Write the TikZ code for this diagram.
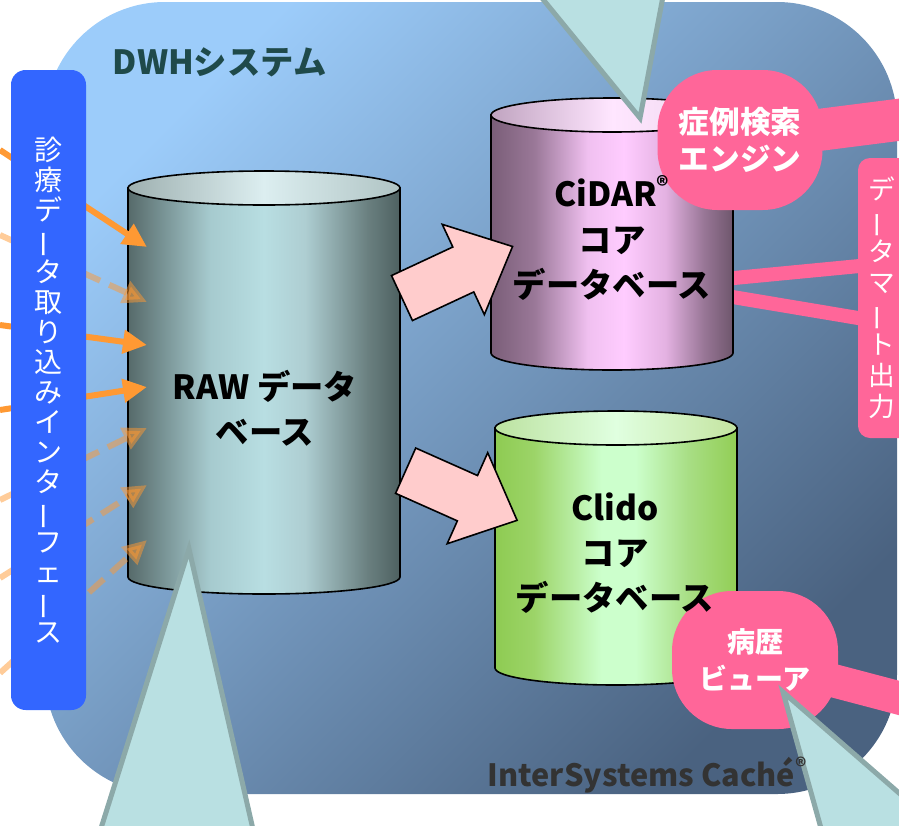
\documentclass[tikz,border=0pt]{standalone}
\usepackage{fontspec}
\setmainfont{Noto Sans CJK JP}
\usepackage{graphicx}
\usepackage{tikz}
\usepackage{xcolor}
\usetikzlibrary{arrows.meta,shapes.arrows}
\definecolor{bgtop}{HTML}{9CCCFA}
\definecolor{bgbot}{HTML}{4A6280}
\definecolor{inblue}{HTML}{3366FF}
\definecolor{blobpink}{HTML}{FF6699}
\definecolor{arrowpink}{HTML}{FFCCCC}
\definecolor{feedorange}{HTML}{FF9933}
\definecolor{tipcyan}{HTML}{B9E0E2}
\definecolor{tipedge}{HTML}{8CA9A9}
\definecolor{titleteal}{HTML}{1F4A4A}
\definecolor{cachegray}{HTML}{333333}
\definecolor{rawA}{HTML}{566A6A}
\definecolor{rawB}{HTML}{A6CACE}
\definecolor{rawC}{HTML}{B8DEE2}
\definecolor{rawD}{HTML}{AECED2}
\definecolor{rawE}{HTML}{6A8080}
\definecolor{rawF}{HTML}{4E6060}
\definecolor{rawcapA}{HTML}{9EB0B0}
\definecolor{rawcapB}{HTML}{DCEEF0}
\definecolor{rawcapC}{HTML}{B0C4C4}
\definecolor{cidA}{HTML}{7A5E78}
\definecolor{cidB}{HTML}{9A7898}
\definecolor{cidC}{HTML}{F0C0F0}
\definecolor{cidD}{HTML}{FFCCFF}
\definecolor{cidE}{HTML}{E4B2E2}
\definecolor{cidF}{HTML}{987696}
\definecolor{cidG}{HTML}{6E566C}
\definecolor{cidcapA}{HTML}{C0A4C0}
\definecolor{cidcapB}{HTML}{FFE6FF}
\definecolor{cidcapC}{HTML}{ECD6EC}
\definecolor{cliA}{HTML}{8ECB52}
\definecolor{cliB}{HTML}{9CD468}
\definecolor{cliC}{HTML}{CCFFCC}
\definecolor{cliE}{HTML}{A8DE84}
\definecolor{cliF}{HTML}{92CE55}
\definecolor{clicapA}{HTML}{BCE2A0}
\definecolor{clicapB}{HTML}{E0FFE0}
\definecolor{clicapC}{HTML}{C4E4A0}
\pgfdeclarehorizontalshading{rawbody}{100bp}{color(0bp)=(rawA); color(25bp)=(rawA); color(40bp)=(rawB); color(50bp)=(rawC); color(57.5bp)=(rawD); color(69bp)=(rawE); color(75bp)=(rawF); color(100bp)=(rawF)}
\pgfdeclarehorizontalshading{rawcap}{100bp}{color(0bp)=(rawcapA); color(25bp)=(rawcapA); color(50bp)=(rawcapB); color(75bp)=(rawcapC); color(100bp)=(rawcapC)}
\pgfdeclarehorizontalshading{cidarbody}{100bp}{color(0bp)=(cidA); color(25bp)=(cidA); color(34bp)=(cidB); color(45bp)=(cidC); color(52.5bp)=(cidD); color(61bp)=(cidE); color(69bp)=(cidF); color(75bp)=(cidG); color(100bp)=(cidG)}
\pgfdeclarehorizontalshading{cidarcap}{100bp}{color(0bp)=(cidcapA); color(25bp)=(cidcapA); color(50bp)=(cidcapB); color(75bp)=(cidcapC); color(100bp)=(cidcapC)}
\pgfdeclarehorizontalshading{clidobody}{100bp}{color(0bp)=(cliA); color(25bp)=(cliA); color(33bp)=(cliB); color(47bp)=(cliC); color(54bp)=(cliC); color(65bp)=(cliE); color(75bp)=(cliF); color(100bp)=(cliF)}
\pgfdeclarehorizontalshading{clidocap}{100bp}{color(0bp)=(clicapA); color(25bp)=(clicapA); color(50bp)=(clicapB); color(75bp)=(clicapC); color(100bp)=(clicapC)}
\newcommand{\vbar}{\rotatebox[origin=c]{90}{ー}}
% name, left, right, top, bottom, body shading, cap shading
\newcommand{\drum}[7]{%
  \shade[shading=#6, draw, line width=1.2pt] (#2,#4) -- (#2,#5) arc[start angle=180, end angle=0, x radius={(#3-#2)/2}, y radius=17] -- (#3,#4) -- cycle;
  \shade[shading=#7, draw, line width=1.2pt] ({(#2+#3)/2},#4) ellipse[x radius={(#3-#2)/2}, y radius=17];
  \node[inner sep=0pt, minimum width={(#3-#2)*0.75pt}, minimum height={(#5-#4)*0.75pt}] (#1) at ({(#2+#3)/2},{(#4+#5)/2}) {};
}
\tikzstyle{inflow} = [line width=4.5pt, draw=feedorange, -{Triangle[length=18pt,width=17pt]}]
\tikzstyle{inflowdash} = [inflow, opacity=0.5, dash pattern=on 15pt off 7.5pt]
\tikzstyle{feedbox} = [fill=inblue, rounded corners=11pt, minimum width=56.25pt, minimum height=480pt, inner sep=0pt, text=white, align=center, font=\fontsize{21}{22.5}\selectfont]
\tikzstyle{martbox} = [fill=blobpink, rounded corners=9pt, minimum width=52.5pt, minimum height=210pt, inner sep=0pt, text=white, align=center, font=\fontsize{20}{23.25}\selectfont]
\tikzstyle{blob} = [fill=blobpink, rounded corners=45pt, inner sep=0pt, text=white, align=center, font=\bfseries\fontsize{23}{28}\selectfont]
\tikzstyle{blobband} = [draw=blobpink]
\tikzstyle{martline} = [draw=blobpink, line width=10.5pt]
\tikzstyle{bigarrow} = [single arrow, draw=black, line width=1.2pt, fill=arrowpink, minimum height=91.5pt, minimum width=73.5pt, single arrow head extend=18.75pt, single arrow tip angle=85, inner xsep=0pt, inner ysep=18pt]
\tikzstyle{dbtext} = [align=center, font=\bfseries\fontsize{25}{34}\selectfont]
\tikzstyle{pointer} = [fill=tipcyan, draw=tipedge, line width=3.75pt]

\begin{document}
\begin{tikzpicture}[x=0.75pt, y=-0.75pt]
  \useasboundingbox (0,0) rectangle (899,825);
  \clip (0,0) rectangle (899,825);
  % system area
  \shade[top color=bgtop, bottom color=bgbot, shading angle=45, rounded corners=90pt] (45,2) rectangle (897,794);
  \node[anchor=west, text=titleteal, font=\bfseries\fontsize{25}{30}\selectfont] (title) at (108,62) {DWHシステム};

  % output bands
  \coordinate (martsrc) at (661,285);
  \coordinate (martup) at (870,265);
  \coordinate (martdn) at (870,320);
  \draw[martline] (martsrc) -- (martup);
  \draw[martline] (martsrc) -- (martdn);
  \coordinate (enginec) at (740,140);
  \coordinate (engineout) at (960,112);
  \draw[blobband, line width=31.5pt] (enginec) -- (engineout);
  \coordinate (viewerc) at (755,660);
  \coordinate (viewerout) at (960,714);
  \draw[blobband, line width=25pt] (viewerc) -- (viewerout);

  % databases
  \drum{raw}{128}{400}{188}{577}{rawbody}{rawcap}
  \drum{cidar}{491}{733}{115}{353}{cidarbody}{cidarcap}
  \drum{clido}{495}{737}{428}{668}{clidobody}{clidocap}

  % feeds into RAW
  \foreach \i/\sy/\ty/\kind in {1/150/247/inflow, 2/235/302/inflowdash, 3/325/345/inflow, 4/410/387/inflow, 5/500/428/inflowdash, 6/578/485/inflowdash, 7/673/540/inflowdash} {
    \coordinate (src\i) at (0,\sy);
    \coordinate (in\i) at (147,\ty);
    \draw[\kind] (src\i) -- (in\i);
  }
  \node[feedbox] (feed) at (48.5,390) {診\\療\\デ\\\vbar\\タ\\取\\り\\込\\み\\イ\\ン\\タ\\\vbar\\フ\\ェ\\\vbar\\ス};

  % block arrows
  \node[bigarrow, rotate=25] (toCidar) at (445,278) {};
  \node[bigarrow, rotate=-24] (toClido) at (449,490) {};

  % pink parts
  \node[blob, minimum width=123.75pt, minimum height=105pt] (engine) at (enginec) {症例検索\\エンジン};
  \node[blob, minimum width=124.5pt, minimum height=103.5pt, font=\bfseries\fontsize{21}{28}\selectfont] (viewer) at (viewerc) {病歴\\ビューア};
  \node[martbox] (mart) at (893,298) {};
  \node[text=white, align=center, font=\fontsize{20}{23.25}\selectfont, inner sep=0pt] (marttext) at (882,298) {デ\\\vbar\\タ\\マ\\\vbar\\ト\\出\\力};

  % labels
  \node[dbtext] (rawlabel) at (265,408) {RAW データ\\ベース};
  \node[dbtext] (cidarlabel) at (612,238) {CiDAR\textsuperscript{®}\\コア\\データベース};
  \node[dbtext] (clidolabel) at (615,553) {Clido\\コア\\データベース};

  % pointers
  \draw[pointer] (519,-30) -- (668,-30) -- (640,118) -- cycle;
  \draw[pointer] (189,549) -- (91,860) -- (260,860) -- cycle;
  \draw[pointer] (783,692) -- (841,900) -- (1015,894) -- cycle;

  \node[anchor=west, text=cachegray, font=\bfseries\fontsize{23}{28}\selectfont] (cache) at (483,775) {InterSystems Caché\textsuperscript{®}};
\end{tikzpicture}
\end{document}
